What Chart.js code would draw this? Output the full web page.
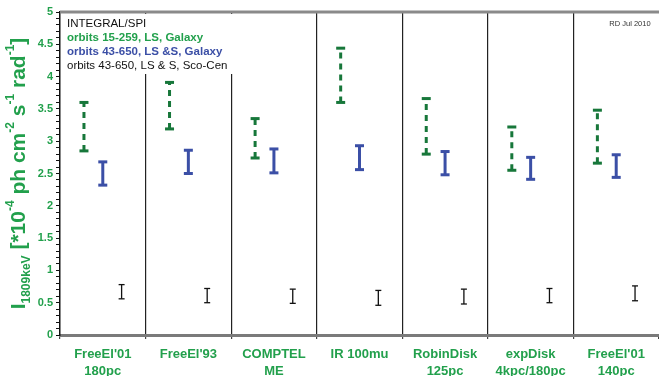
<!DOCTYPE html>
<html>
<head>
<meta charset="utf-8">
<script src="https://cdn.jsdelivr.net/npm/chart.js@4.4.1/dist/chart.umd.min.js"></script>
<style>
  html, body { margin: 0; padding: 0; background: #fff; }
  #wrap { width: 659px; height: 376px; position: relative; }
</style>
</head>
<body>
<div id="wrap"><canvas id="chartCanvas"></canvas></div>
<script>
// category labels (two lines where the original has two)
const categories = [
  ["FreeEl'01", "180pc"],
  ["FreeEl'93"],
  ["COMPTEL", "ME"],
  ["IR 100mu"],
  ["RobinDisk", "125pc"],
  ["expDisk", "4kpc/180pc"],
  ["FreeEl'01", "140pc"]
];

// orbits 15-259, LS, Galaxy (green, dashed)
const greenLo = [2.85, 3.19, 2.74, 3.60, 2.80, 2.55, 2.66];
const greenHi = [3.60, 3.91, 3.35, 4.44, 3.66, 3.22, 3.48];
// orbits 43-650, LS &S, Galaxy (blue)
const blueLo = [2.32, 2.50, 2.51, 2.56, 2.48, 2.41, 2.44];
const blueHi = [2.68, 2.86, 2.88, 2.93, 2.84, 2.75, 2.79];
// orbits 43-650, LS & S, Sco-Cen (black)
const blackLo = [0.56, 0.50, 0.49, 0.46, 0.48, 0.50, 0.53];
const blackHi = [0.78, 0.72, 0.71, 0.69, 0.71, 0.72, 0.76];

const yMin = 0, yMax = 5, yStep = 0.5;

const GREEN_TXT = "#22a04c";
const GREEN_BAR = "#17773a";
const BLUE = "#3b4fa6";
const FONT = "'Liberation Sans', Arial, sans-serif";

function errorPoints(lo, hi, off) {
  const pts = [];
  for (let i = 0; i < lo.length; i++) {
    pts.push({ x: i + off, y: lo[i] });
    pts.push({ x: i + off, y: hi[i] });
    pts.push({ x: i + off, y: null });
  }
  return pts;
}

function errDataset(lo, hi, off, color, width, cap, dash) {
  return {
    data: errorPoints(lo, hi, off),
    borderColor: color,
    borderWidth: width,
    borderDash: dash || [],
    borderCapStyle: "butt",
    spanGaps: false,
    tension: 0,
    pointStyle: "line",
    pointRadius: cap,
    pointBorderWidth: width,
    pointBorderColor: color,
    pointBackgroundColor: color,
    fill: false
  };
}

function noPad(axis) {
  axis.paddingLeft = 0;
  axis.paddingRight = 0;
}

// legend box, date stamp, top frame line and the rotated axis title
const decorations = {
  id: "decorations",
  beforeDatasetsDraw(chart) {
    const ctx = chart.ctx;
    const a = chart.chartArea;
    ctx.save();
    ctx.fillStyle = "#fff";
    ctx.fillRect(a.left + 1, a.top + 2, 174, 60);
    const rows = [
      { t: "INTEGRAL/SPI", c: "#111", w: "normal" },
      { t: "orbits 15-259, LS, Galaxy", c: GREEN_TXT, w: "bold" },
      { t: "orbits 43-650, LS &S, Galaxy", c: BLUE, w: "bold" },
      { t: "orbits 43-650, LS & S, Sco-Cen", c: "#111", w: "normal" }
    ];
    ctx.textBaseline = "middle";
    ctx.textAlign = "left";
    rows.forEach((r, i) => {
      ctx.font = r.w + " 11.5px " + FONT;
      ctx.fillStyle = r.c;
      ctx.fillText(r.t, 67, 24 + i * 14);
    });
    ctx.font = "7.5px " + FONT;
    ctx.fillStyle = "#333";
    ctx.textAlign = "center";
    ctx.fillText("RD Jul 2010", 630, 24);
    ctx.restore();
  },
  afterDraw(chart) {
    const ctx = chart.ctx;
    const a = chart.chartArea;
    ctx.save();
    ctx.strokeStyle = "#8a8a8a";
    ctx.lineWidth = 3;
    ctx.beginPath();
    ctx.moveTo(a.left, a.top);
    ctx.lineTo(chart.width, a.top);
    ctx.stroke();

    // y title with sub/superscripts
    const big = 21, small = 12;
    const parts = [
      { t: "I", s: big, dy: 0 },
      { t: "1809keV", s: small, dy: 8 },
      { t: " [*10", s: big, dy: 0 },
      { t: "-4", s: small, dy: -8 },
      { t: " ph cm", s: big, dy: 0 },
      { t: "-2", s: small, dy: -8 },
      { t: " s", s: big, dy: 0 },
      { t: "-1", s: small, dy: -8 },
      { t: " rad", s: big, dy: 0 },
      { t: "-1", s: small, dy: -8 },
      { t: "]", s: big, dy: 0 }
    ];
    let total = 0;
    parts.forEach(p => {
      ctx.font = "bold " + p.s + "px " + FONT;
      p.w = ctx.measureText(p.t).width;
      total += p.w;
    });
    ctx.translate(19, (a.top + a.bottom) / 2);
    ctx.rotate(-Math.PI / 2);
    ctx.fillStyle = GREEN_TXT;
    ctx.textBaseline = "middle";
    ctx.textAlign = "left";
    let x = -total / 2;
    parts.forEach(p => {
      ctx.font = "bold " + p.s + "px " + FONT;
      ctx.fillText(p.t, x, p.dy);
      x += p.w;
    });
    ctx.restore();
  }
};

new Chart(document.getElementById("chartCanvas"), {
  type: "line",
  data: {
    datasets: [
      errDataset(greenLo, greenHi, 0.28, GREEN_BAR, 3, 4.5, [6, 5]),
      errDataset(blueLo, blueHi, 0.5, BLUE, 3, 4.5),
      errDataset(blackLo, blackHi, 0.72, "#111", 1.3, 3)
    ]
  },
  options: {
    responsive: true,
    maintainAspectRatio: false,
    animation: false,
    layout: { autoPadding: false, padding: { top: 12, right: 0, left: 0, bottom: 0 } },
    plugins: {
      legend: { display: false },
      tooltip: { enabled: false }
    },
    scales: {
      x: {
        type: "linear",
        min: 0,
        max: categories.length,
        weight: 0,
        ticks: { display: false, stepSize: 1 },
        grid: {
          color: c => (c.tick && (c.tick.value === 0 || c.tick.value === categories.length)) ? "rgba(0,0,0,0)" : "#222",
          lineWidth: 1.2,
          drawTicks: true,
          tickLength: 4,
          tickColor: "#444"
        },
        border: { color: "#7a7a7a", width: 3 },
        afterFit(axis) { axis.height = 5; noPad(axis); }
      },
      xl: {
        type: "category",
        position: "bottom",
        labels: categories,
        offset: true,
        weight: 1,
        grid: { display: false, drawTicks: false },
        border: { display: false },
        ticks: {
          color: GREEN_TXT,
          font: { family: FONT, size: 13, weight: "bold", lineHeight: 1.3 },
          padding: 6,
          maxRotation: 0,
          autoSkip: false
        },
        afterFit(axis) { axis.height = 36; noPad(axis); }
      },
      y: {
        min: yMin,
        max: yMax,
        ticks: {
          stepSize: 0.1,
          autoSkip: false,
          color: GREEN_TXT,
          font: { family: FONT, size: 11, weight: "bold" },
          padding: 3,
          callback(v) {
            const h = v / yStep;
            if (Math.abs(h - Math.round(h)) > 1e-6) return "";
            return String(Math.round(h) * yStep);
          }
        },
        grid: { drawOnChartArea: false, drawTicks: true, tickLength: 4, tickColor: "#111" },
        border: { color: "#111", width: 1.5 },
        afterFit(axis) { axis.width = 60; }
      }
    }
  },
  plugins: [decorations]
});
</script>
</body>
</html>
